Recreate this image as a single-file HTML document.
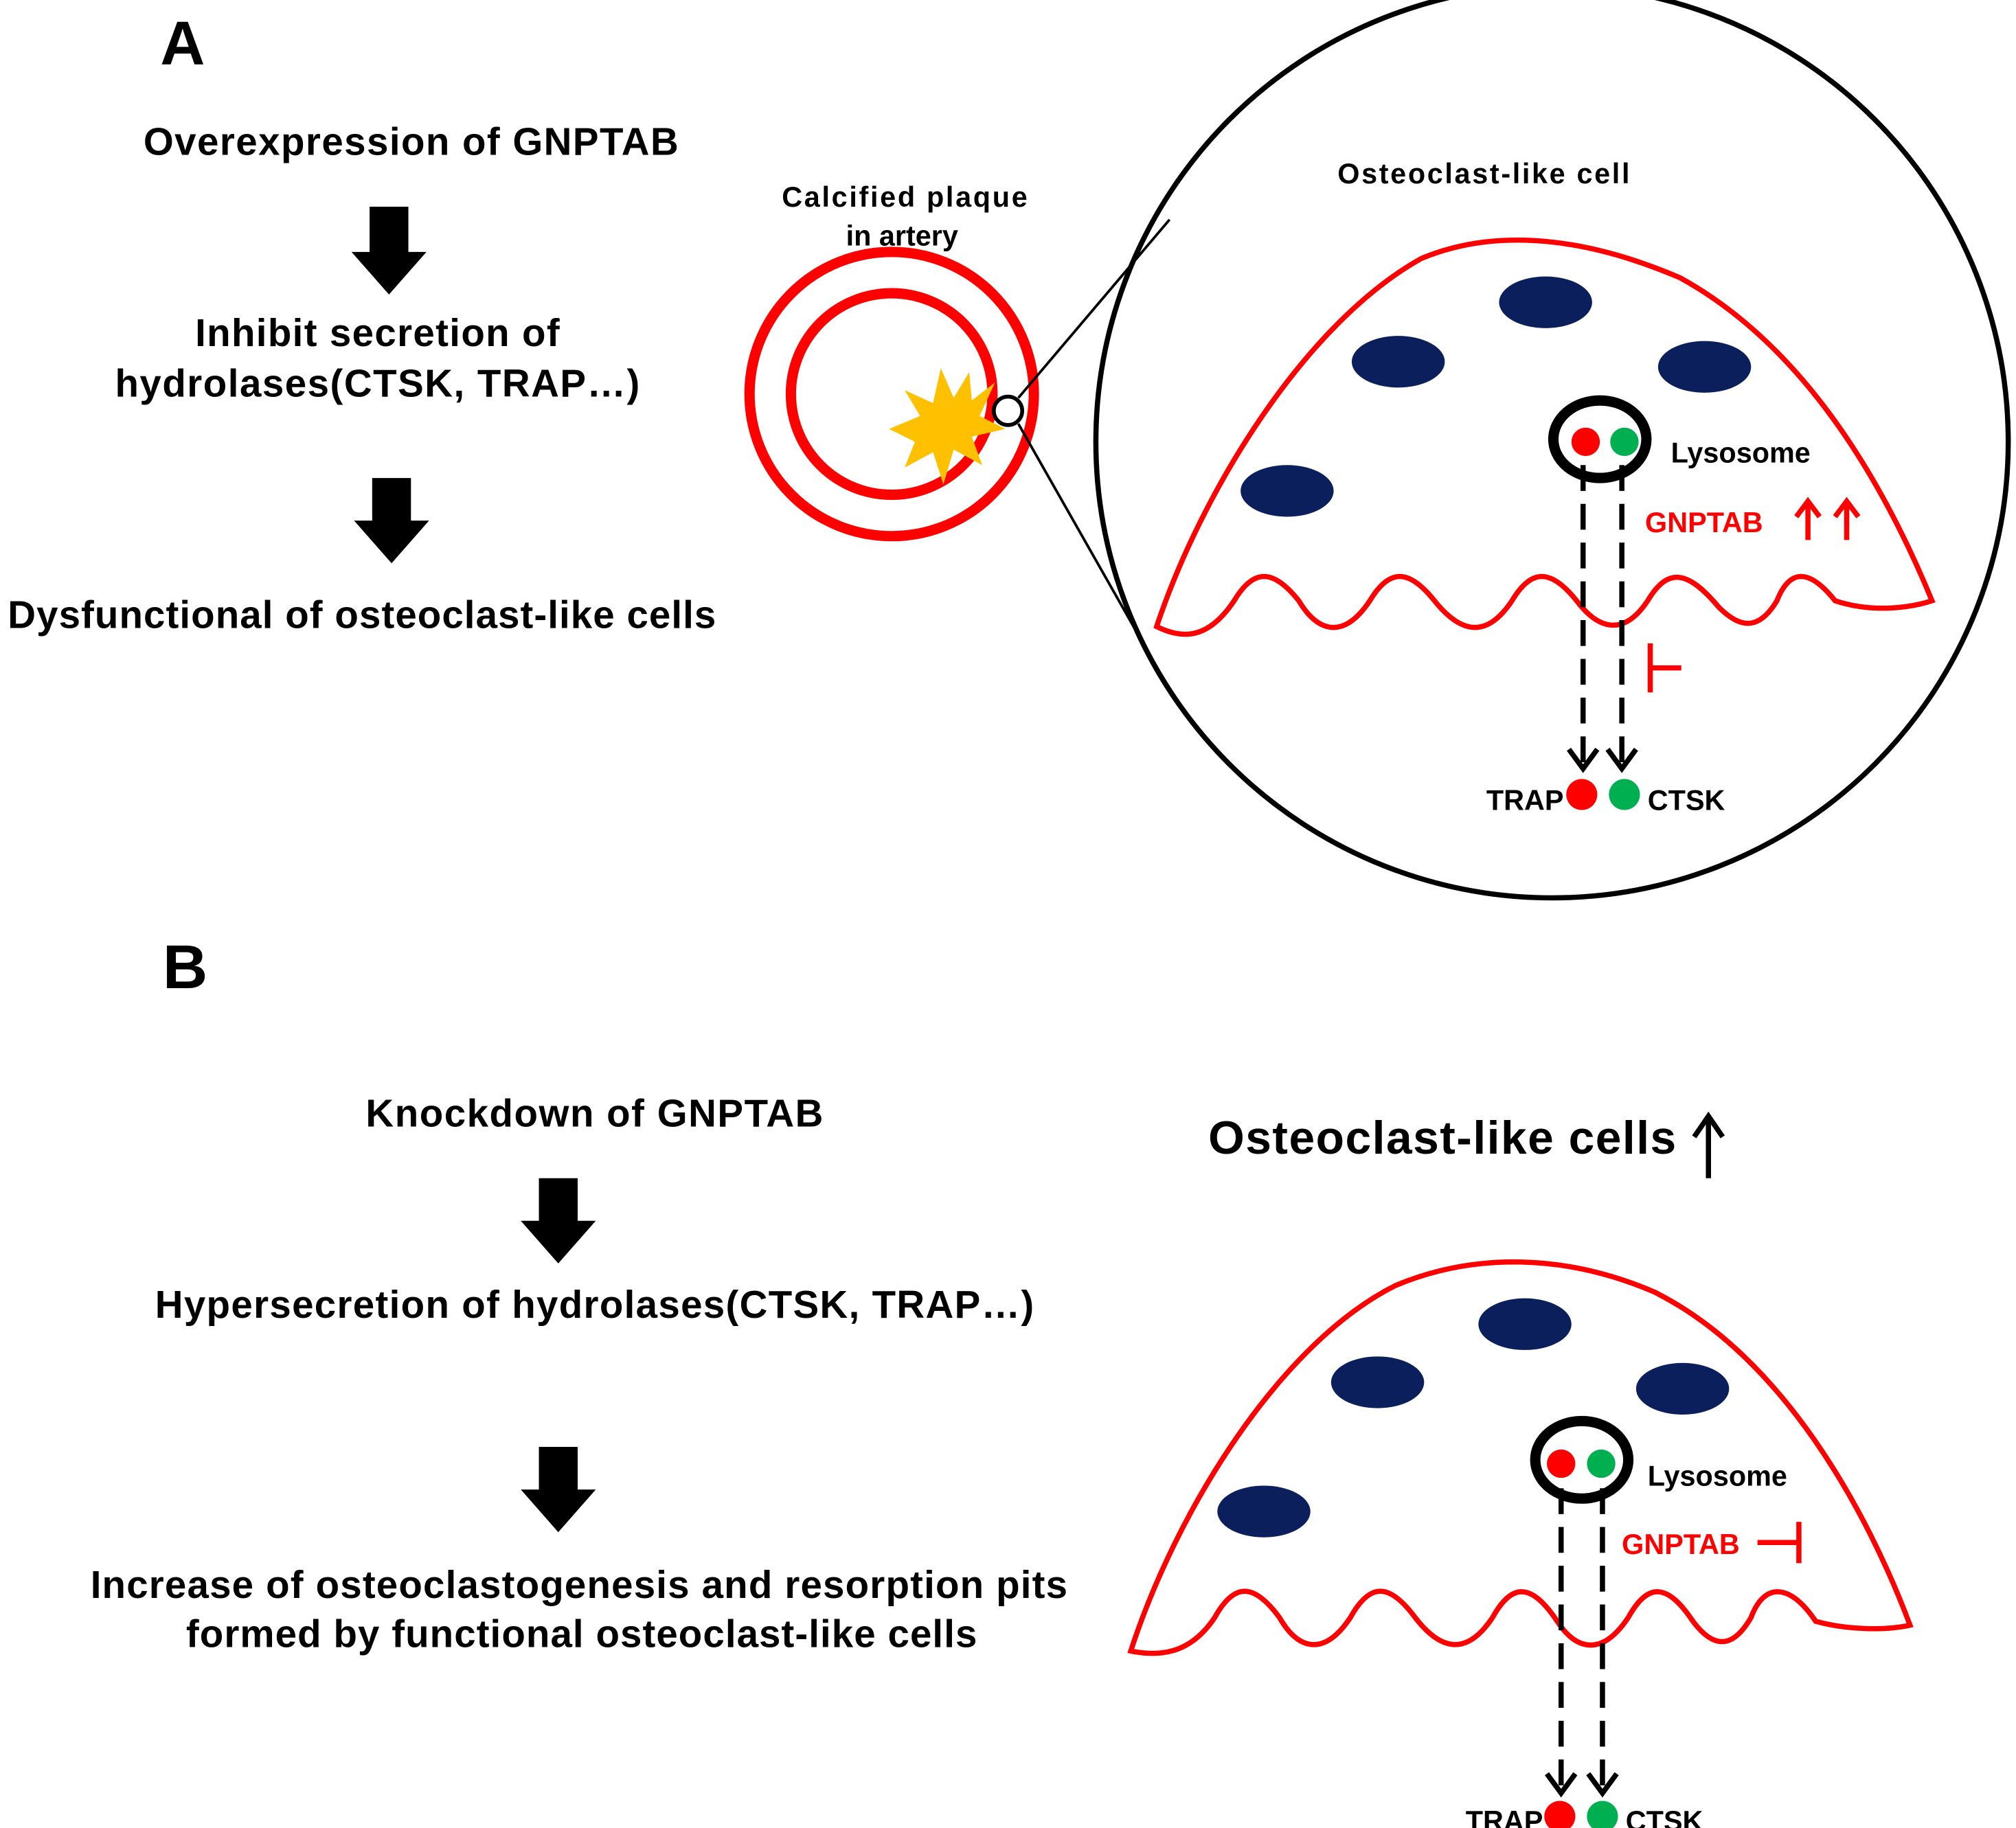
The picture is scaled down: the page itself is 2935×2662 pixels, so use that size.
<!DOCTYPE html>
<html><head><meta charset="utf-8"><style>html,body{margin:0;padding:0;background:#fff}svg{display:block}</style></head>
<body>
<svg width="2935" height="2662" viewBox="0 0 1560 1415" preserveAspectRatio="none" xmlns="http://www.w3.org/2000/svg" font-family="Liberation Sans, Arial, sans-serif" font-weight="bold">
<!-- Panel A -->
<text x="124" y="50" font-size="48">A</text>
<text x="318" y="120" font-size="30" text-anchor="middle" textLength="414">Overexpression of GNPTAB</text>
<polygon points="286,160 316,160 316,195 330,195 301,228 272,195 286,195" fill="#000"/>
<text x="292" y="268" font-size="30" text-anchor="middle" textLength="282">Inhibit secretion of</text>
<text x="292" y="307" font-size="30" text-anchor="middle" textLength="406">hydrolases(CTSK, TRAP…)</text>
<polygon points="288,370 318,370 318,403 332,403 303,436 274,403 288,403" fill="#000"/>
<text x="280" y="486" font-size="30" text-anchor="middle" textLength="548">Dysfunctional of osteoclast-like cells</text>

<text x="700" y="160" font-size="22" text-anchor="middle" textLength="190">Calcified  plaque</text>
<text x="698" y="190" font-size="22" text-anchor="middle">in artery</text>
<circle cx="690" cy="305" r="110" fill="none" stroke="#f00" stroke-width="8"/>
<circle cx="690" cy="305" r="78" fill="none" stroke="#f00" stroke-width="8"/>
<polygon points="752,310 770,296 758,322 778,332 752,338 760,360 738,348 730,375 722,350 700,362 708,342 688,332 712,322 700,302 722,312 728,285 738,308 750,288" fill="#ffc000"/>
<circle cx="780" cy="318" r="11" fill="#fff" stroke="#000" stroke-width="3"/>
<line x1="788" y1="308" x2="905" y2="170" stroke="#000" stroke-width="2"/>
<line x1="788" y1="328" x2="880" y2="490" stroke="#000" stroke-width="2"/>
<circle cx="1201" cy="342" r="353" fill="none" stroke="#000" stroke-width="4"/>
<text x="1148" y="142" font-size="22" text-anchor="middle" textLength="226">Osteoclast-like  cell</text>
<path d="M895,485 C930,380 1010,250 1100,200 C1160,175 1230,185 1300,215 C1400,270 1460,380 1495,465 C1480,470 1450,475 1420,465 C1400,440 1385,440 1375,465 C1360,490 1345,485 1330,470 C1305,440 1290,440 1275,465 C1255,495 1235,485 1220,465 C1200,440 1185,440 1170,465 C1150,495 1130,490 1110,465 C1090,440 1075,440 1060,465 C1040,495 1020,490 1005,465 C985,440 970,440 955,465 C935,495 915,495 895,485 Z" fill="none" stroke="#f00" stroke-width="4"/>
<g fill="#0a1f5c">
<ellipse cx="1196" cy="234" rx="36" ry="20"/>
<ellipse cx="1082" cy="280" rx="36" ry="20"/>
<ellipse cx="1319" cy="284" rx="36" ry="20"/>
<ellipse cx="996" cy="380" rx="36" ry="20"/>
</g>
<ellipse cx="1238" cy="340" rx="36" ry="30" fill="none" stroke="#000" stroke-width="8"/>
<circle cx="1227" cy="342" r="11" fill="#f00"/>
<circle cx="1257" cy="342" r="11" fill="#00b050"/>
<text x="1293" y="358" font-size="22">Lysosome</text>
<text x="1273" y="412" font-size="22" fill="#f00">GNPTAB</text>
<g stroke="#f00" stroke-width="4" fill="none">
<line x1="1399" y1="418" x2="1399" y2="390"/><polyline points="1390,400 1399,388 1408,400"/>
<line x1="1429" y1="418" x2="1429" y2="390"/><polyline points="1420,400 1429,388 1438,400"/>
<line x1="1277" y1="498" x2="1277" y2="536"/><line x1="1277" y1="517" x2="1301" y2="517"/>
</g>
<g stroke="#000" stroke-width="4" fill="none">
<line x1="1225" y1="360" x2="1225" y2="592" stroke-dasharray="20,10"/>
<line x1="1255" y1="360" x2="1255" y2="592" stroke-dasharray="20,10"/>
<polyline points="1214,580 1225,595 1236,580"/>
<polyline points="1244,580 1255,595 1266,580"/>
</g>
<text x="1210" y="627" font-size="22" text-anchor="end">TRAP</text>
<circle cx="1224" cy="615" r="12" fill="#f00"/>
<circle cx="1257" cy="615" r="12" fill="#00b050"/>
<text x="1275" y="627" font-size="22">CTSK</text>

<!-- Panel B -->
<text x="126" y="765" font-size="48">B</text>
<text x="460" y="872" font-size="30" text-anchor="middle" textLength="354">Knockdown of GNPTAB</text>
<polygon points="417,912 447,912 447,945 461,945 432,978 403,945 417,945" fill="#000"/>
<text x="460" y="1020" font-size="30" text-anchor="middle" textLength="680">Hypersecretion of hydrolases(CTSK, TRAP…)</text>
<polygon points="417,1120 447,1120 447,1153 461,1153 432,1186 403,1153 417,1153" fill="#000"/>
<text x="448" y="1237" font-size="30" text-anchor="middle" textLength="756">Increase of osteoclastogenesis and resorption pits</text>
<text x="450" y="1275" font-size="30" text-anchor="middle" textLength="612">formed by functional osteoclast-like cells</text>

<text x="935" y="893" font-size="36" textLength="362">Osteoclast-like cells</text>
<g stroke="#000" stroke-width="4" fill="none">
<line x1="1322" y1="912" x2="1322" y2="866"/><polyline points="1311,880 1322,864 1333,880"/>
</g>
<path d="M875,1278 C910,1170 990,1040 1080,995 C1140,970 1210,970 1280,1000 C1380,1050 1445,1170 1478,1258 C1460,1262 1430,1262 1405,1255 C1385,1225 1365,1225 1355,1252 C1340,1278 1325,1275 1310,1255 C1290,1225 1275,1225 1260,1252 C1240,1282 1220,1278 1205,1255 C1185,1225 1170,1225 1155,1252 C1135,1282 1115,1278 1095,1252 C1075,1225 1060,1225 1045,1252 C1025,1282 1005,1278 990,1252 C970,1225 955,1225 940,1252 C920,1282 895,1282 875,1278 Z" fill="none" stroke="#f00" stroke-width="4"/>
<g fill="#0a1f5c">
<ellipse cx="1180" cy="1025" rx="36" ry="20"/>
<ellipse cx="1066" cy="1070" rx="36" ry="20"/>
<ellipse cx="1302" cy="1075" rx="36" ry="20"/>
<ellipse cx="978" cy="1170" rx="36" ry="20"/>
</g>
<ellipse cx="1224" cy="1130" rx="36" ry="30" fill="none" stroke="#000" stroke-width="8"/>
<circle cx="1208" cy="1133" r="11" fill="#f00"/>
<circle cx="1239" cy="1133" r="11" fill="#00b050"/>
<text x="1275" y="1150" font-size="22">Lysosome</text>
<text x="1255" y="1203" font-size="22" fill="#f00">GNPTAB</text>
<g stroke="#f00" stroke-width="4" fill="none">
<line x1="1360" y1="1194" x2="1392" y2="1194"/><line x1="1392" y1="1178" x2="1392" y2="1210"/>
</g>
<g stroke="#000" stroke-width="4" fill="none">
<line x1="1208" y1="1152" x2="1208" y2="1385" stroke-dasharray="20,10"/>
<line x1="1240" y1="1152" x2="1240" y2="1385" stroke-dasharray="20,10"/>
<polyline points="1197,1373 1208,1388 1219,1373"/>
<polyline points="1229,1373 1240,1388 1251,1373"/>
</g>
<text x="1194" y="1417" font-size="22" text-anchor="end">TRAP</text>
<circle cx="1207" cy="1406" r="12" fill="#f00"/>
<circle cx="1240" cy="1406" r="12" fill="#00b050"/>
<text x="1258" y="1417" font-size="22">CTSK</text>
</svg>
</body></html>
